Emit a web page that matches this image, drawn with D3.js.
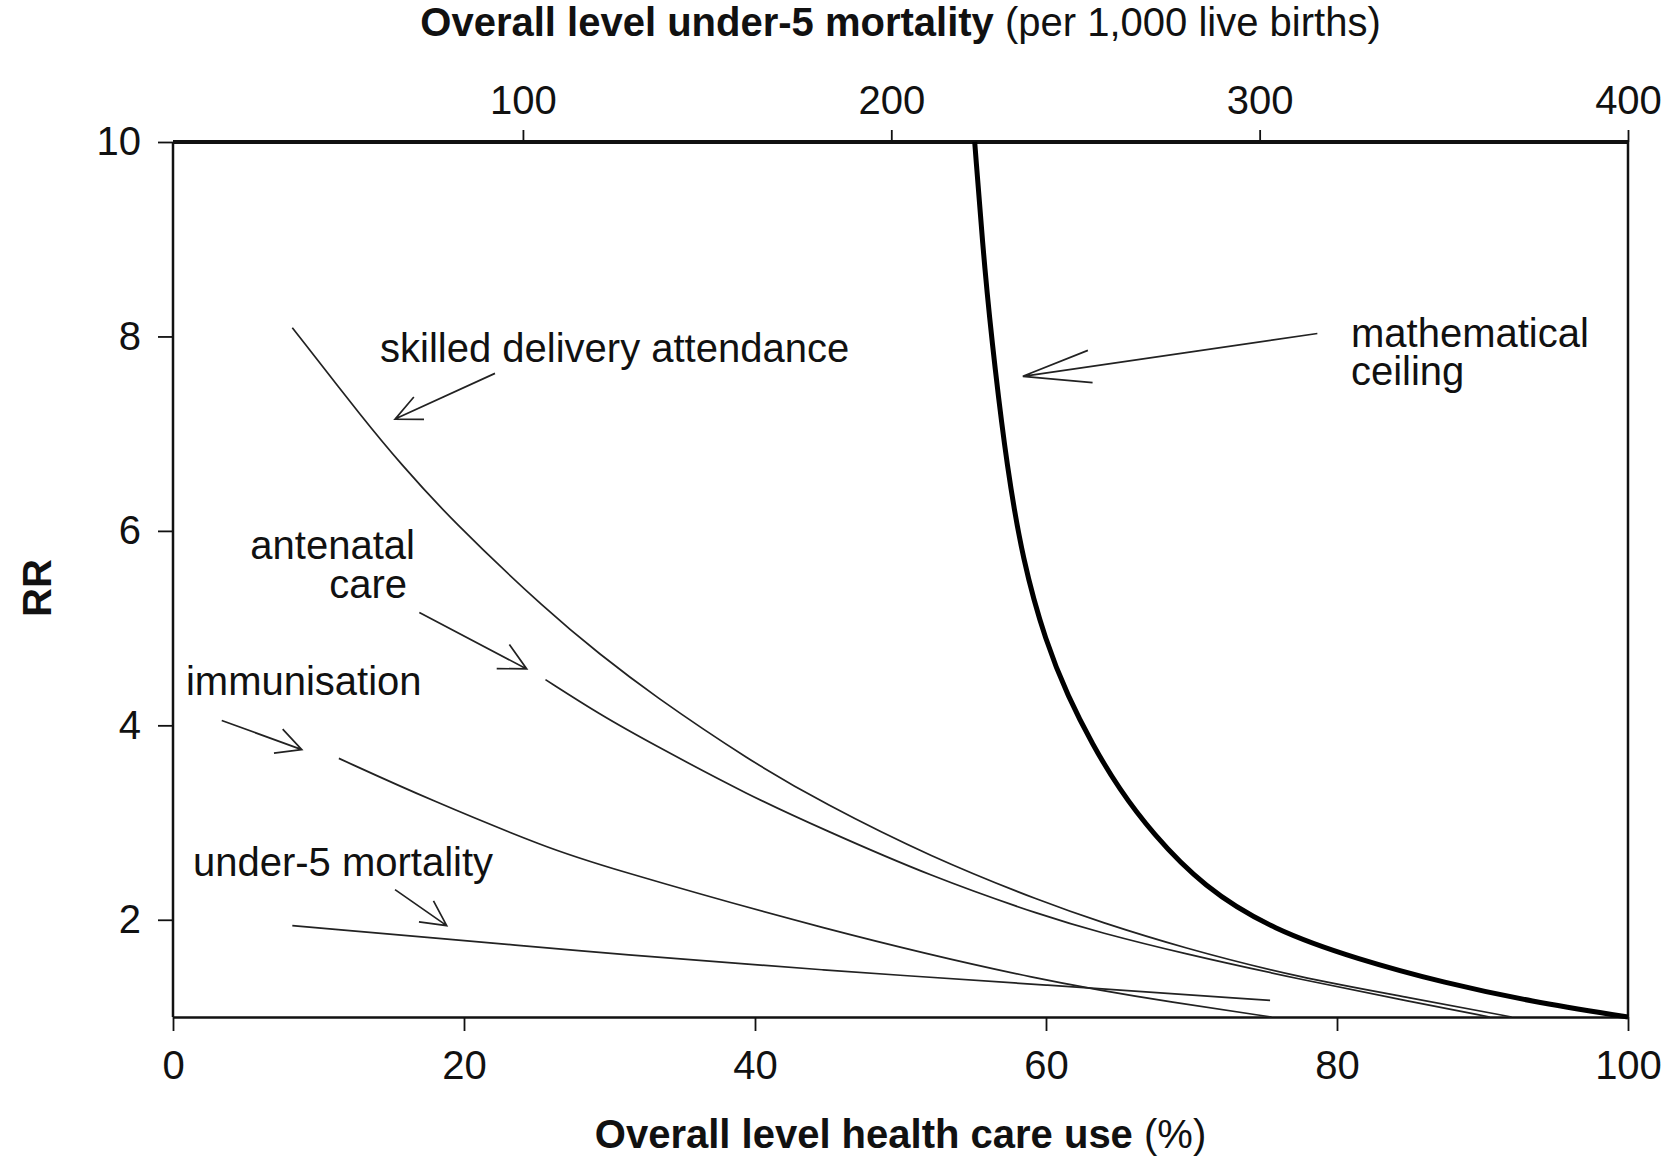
<!DOCTYPE html>
<html>
<head>
<meta charset="utf-8">
<script src="https://cdn.jsdelivr.net/npm/d3@7"></script>
<style>
  body { margin: 0; background: #fff; }
  svg text { font-family: "Liberation Sans", Arial, Helvetica, sans-serif; fill: #111; }
</style>
</head>
<body>
<div id="chart"></div>
<script>
// curves: [overall health care use %, RR]
var ceilingPts = [[55.1,10],[55.8,8.64],[56.5,7.66],[57.3,6.68],[58.4,5.69],[60.0,4.85],[61.5,4.3],
  [63.2,3.8],[65.0,3.35],[67.3,2.89],[70.8,2.34],[75.6,1.895],[81.5,1.59],[87.4,1.35],[93.3,1.16],[100,1.0]];
var skilledPts = [[8.2,8.09],[13.3,7.11],[15.6,6.70],[19.0,6.13],[25.9,5.15],[29.35,4.73],[32.8,4.33],
  [39.7,3.63],[44.7,3.2],[52,2.65],[60,2.17],[63.7,1.98],[69.2,1.72],[77.5,1.40],[85,1.2],[92,1.0]];
var antenatalPts = [[25.6,4.47],[29.35,4.11],[32.8,3.82],[39.7,3.27],[44.7,2.93],[52,2.45],[60,2.03],
  [63.7,1.87],[69.2,1.66],[78,1.37],[85,1.16],[90.5,1.0]];
var immunisationPts = [[11.4,3.66],[17.7,3.23],[25.9,2.73],[29.35,2.56],[44.7,1.90],[60,1.36],
  [69.2,1.14],[75.5,1.0]];
var under5Pts = [[8.2,1.94],[25.9,1.71],[29.35,1.66],[44.7,1.48],[60,1.33],[75.4,1.17]];

// tick labels
var bottomTicks = [0,20,40,60,80,100];
var topTicks = [100,200,300,400];
var leftTicks = [2,4,6,8,10];

// annotation labels and arrows, in data units
var labels = [
  {text:"skilled delivery attendance", p:14.23, rr:7.74, anchor:"start"},
  {text:"antenatal", p:16.63, rr:5.71, anchor:"end"},
  {text:"care", p:16.08, rr:5.31, anchor:"end"},
  {text:"immunisation", p:0.89, rr:4.31, anchor:"start"},
  {text:"under-5 mortality", p:1.37, rr:2.45, anchor:"start"},
  {text:"mathematical", p:80.96, rr:7.89, anchor:"start"},
  {text:"ceiling", p:80.96, rr:7.50, anchor:"start"}
];
var arrows = [
  {from:[22.13,7.62], to:[15.26,7.15], head:29, ang:25},
  {from:[16.93,5.16], to:[24.31,4.58], head:30, ang:27},
  {from:[3.35,4.05], to:[8.85,3.75], head:28, ang:27},
  {from:[15.26,2.31], to:[18.81,1.94], head:28, ang:27},
  {from:[78.65,8.03], to:[58.41,7.59], head:70, ang:13.5}
];

var W = 1674, H = 1157;
var plotLeft = 173, plotRight = 1628, plotTop = 142, plotBottom = 1017;
var fontSize = 40;

var svg = d3.select("#chart").append("svg")
  .attr("width", W).attr("height", H);

var xScale = d3.scaleLinear().domain([0,100]).range([plotLeft,plotRight]);
var yScale = d3.scaleLinear().domain([1,10]).range([plotBottom,plotTop]);
var topScale = d3.scaleLinear().domain([5,400]).range([plotLeft,plotRight]);

function styleAxis(g, lineW){
  g.select(".domain").attr("stroke","#111").attr("stroke-width",lineW);
  g.selectAll(".tick line").attr("stroke","#111").attr("stroke-width",1.8);
  g.selectAll(".tick text").style("font-size",fontSize+"px").attr("fill","#111");
}

// bottom axis
var gx = svg.append("g").attr("transform","translate(0,"+plotBottom+")")
  .call(d3.axisBottom(xScale).tickValues(bottomTicks).tickSize(14).tickSizeOuter(0).tickPadding(20));
styleAxis(gx, 2.5);

// top axis (under-5 mortality)
var gt = svg.append("g").attr("transform","translate(0,"+plotTop+")")
  .call(d3.axisTop(topScale).tickValues(topTicks).tickSize(12).tickSizeOuter(0).tickPadding(16));
styleAxis(gt, 4);
gt.select(".domain").attr("d","M"+plotLeft+",0H"+plotRight);

// left axis
var gy = svg.append("g").attr("transform","translate("+plotLeft+",0)")
  .call(d3.axisLeft(yScale).tickValues(leftTicks).tickSize(15).tickSizeOuter(0).tickPadding(17));
styleAxis(gy, 2.5);
gy.select(".domain").attr("d","M0,"+plotTop+"V"+plotBottom);

// right frame line
svg.append("line")
  .attr("x1",plotRight).attr("x2",plotRight).attr("y1",plotTop).attr("y2",plotBottom)
  .attr("stroke","#111").attr("stroke-width",2.5);

// axis titles
var t1 = svg.append("text").attr("x",(plotLeft+plotRight)/2).attr("y",36)
  .attr("text-anchor","middle").style("font-size",fontSize+"px");
t1.append("tspan").attr("font-weight","bold").text("Overall level under-5 mortality");
t1.append("tspan").text(" (per 1,000 live births)");

var t2 = svg.append("text").attr("x",(plotLeft+plotRight)/2).attr("y",1148)
  .attr("text-anchor","middle").style("font-size",fontSize+"px");
t2.append("tspan").attr("font-weight","bold").text("Overall level health care use");
t2.append("tspan").text(" (%)");

svg.append("text").attr("transform","translate(51,588) rotate(-90)")
  .attr("text-anchor","middle").attr("font-weight","bold")
  .style("font-size",fontSize+"px").text("RR");

// curves (b-spline through the read points, smooths reading noise)
var line = d3.line()
  .x(d => xScale(d[0]))
  .y(d => yScale(d[1]))
  .curve(d3.curveBasis);

var thin = [skilledPts, antenatalPts, immunisationPts, under5Pts];
svg.selectAll("path.thin").data(thin).enter().append("path")
  .attr("class","thin")
  .attr("d", line)
  .attr("fill","none").attr("stroke","#222").attr("stroke-width",1.7);

svg.append("path").datum(ceilingPts)
  .attr("d", line)
  .attr("fill","none").attr("stroke","#000").attr("stroke-width",5);

// labels
svg.selectAll("text.lab").data(labels).enter().append("text")
  .attr("class","lab")
  .attr("x", d => xScale(d.p))
  .attr("y", d => yScale(d.rr))
  .attr("text-anchor", d => d.anchor)
  .style("font-size", fontSize+"px")
  .text(d => d.text);

// arrows with open heads
function arrowPath(a){
  var x0 = xScale(a.from[0]), y0 = yScale(a.from[1]);
  var x1 = xScale(a.to[0]), y1 = yScale(a.to[1]);
  var th = Math.atan2(y0-y1, x0-x1);
  var r = a.ang*Math.PI/180;
  var w1 = [x1 + a.head*Math.cos(th+r), y1 + a.head*Math.sin(th+r)];
  var w2 = [x1 + a.head*Math.cos(th-r), y1 + a.head*Math.sin(th-r)];
  return "M"+x0+","+y0+"L"+x1+","+y1+
    "M"+w1[0]+","+w1[1]+"L"+x1+","+y1+"L"+w2[0]+","+w2[1];
}
svg.selectAll("path.arrow").data(arrows).enter().append("path")
  .attr("class","arrow")
  .attr("d", arrowPath)
  .attr("fill","none").attr("stroke","#222").attr("stroke-width",1.7);
</script>
</body>
</html>
